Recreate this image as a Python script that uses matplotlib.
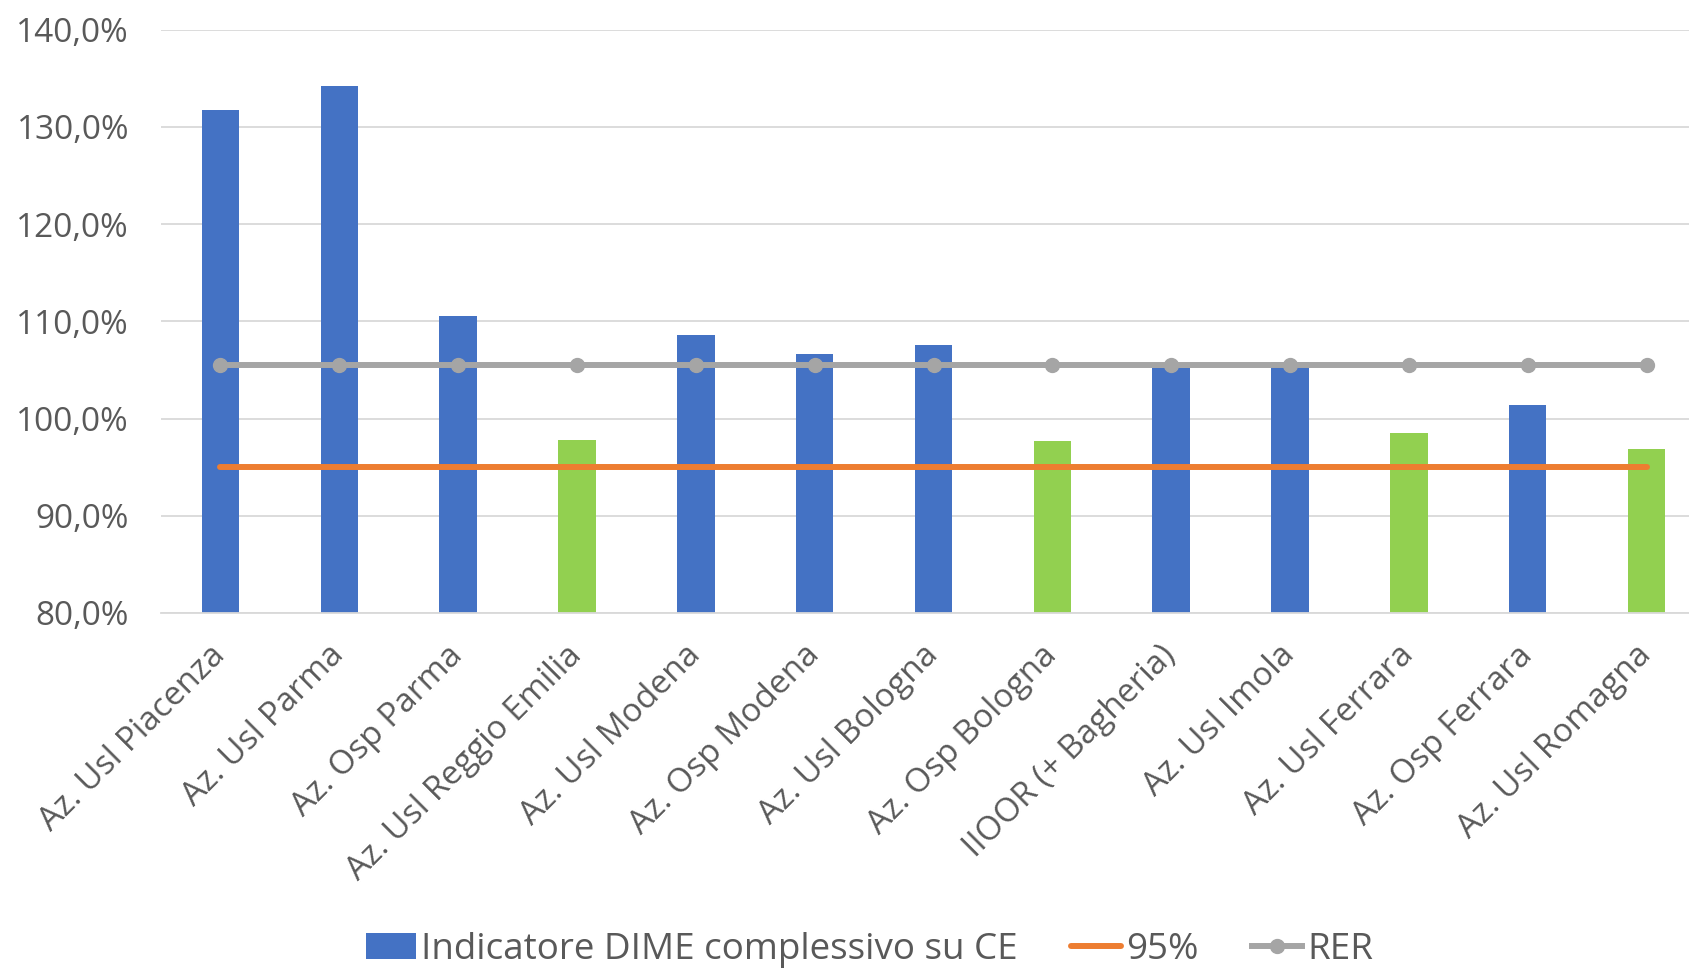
import numpy as np
from matplotlib import pyplot as plt
from matplotlib.ticker import FuncFormatter

categorie = ['Az. Usl Piacenza', 'Az. Usl Parma', 'Az. Osp Parma', 'Az. Usl Reggio Emilia',
             'Az. Usl Modena', 'Az. Osp Modena', 'Az. Usl Bologna', 'Az. Osp Bologna',
             'IIOOR (+ Bagheria)', 'Az. Usl Imola', 'Az. Usl Ferrara', 'Az. Osp Ferrara',
             'Az. Usl Romagna']
indicatore = [131.7, 134.2, 110.5, 97.8, 108.6, 106.6, 107.6, 97.7, 105.2, 105.8, 98.5, 101.4, 96.9]
soglia = [95.0] * len(categorie)
rer = [105.5] * len(categorie)

plt.rcParams['font.family'] = ['Open Sans', 'DejaVu Sans']

fig = plt.figure(figsize=(16.89, 9.71), dpi=100)
# l'asse continua oltre il bordo destro (immagine ritagliata)
ax = fig.add_axes([0.0953, 0.3687, 0.9148, 0.6009])

x = np.arange(len(categorie))
colori = ['#92D050' if v < 100 else '#4472C4' for v in indicatore]
ax.bar(x, indicatore, width=0.315, color=colori, zorder=2,
       label='Indicatore DIME complessivo su CE')
ax.plot(x, soglia, color='#ED7D31', lw=4.3, solid_capstyle='round', zorder=3, label='95%')
ax.plot(x, rer, color='#A5A5A5', lw=4.3, marker='o', ms=10, zorder=3, label='RER')

ax.set_xlim(-0.5, len(categorie) - 0.5)
ax.set_ylim(80, 140)
ax.set_yticks(np.arange(80, 141, 10))
ax.yaxis.set_major_formatter(FuncFormatter(lambda v, p: f'{v:.1f}%'.replace('.', ',')))
ax.grid(axis='y', color='#D9D9D9', lw=1.3, zorder=0)
for s in ['top', 'right', 'left']:
    ax.spines[s].set_visible(False)
ax.spines['bottom'].set_color('#D9D9D9')
ax.spines['bottom'].set_linewidth(1.3)
ax.tick_params(length=0, labelsize=24, colors='#595959')
ax.tick_params(axis='y', pad=23)
ax.tick_params(axis='x', pad=27)

ax.set_xticks(x)
ax.set_xticklabels(categorie, rotation=45, ha='right', rotation_mode='anchor', va='center')

handles, labels = ax.get_legend_handles_labels()
order = [2, 0, 1]
fig.legend([handles[i] for i in order], [labels[i] for i in order],
           loc='center', bbox_to_anchor=(0.515, 0.022), ncol=3, frameon=False,
           fontsize=26.5, labelcolor='#595959', handlelength=1.35, handletextpad=0.15,
           columnspacing=1.45)

plt.savefig('out.png', dpi=100)
